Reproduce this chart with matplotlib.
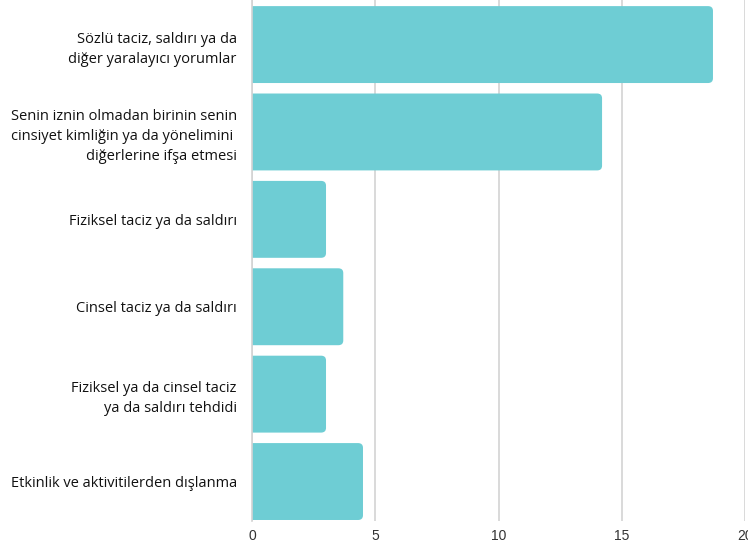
import matplotlib
matplotlib.use("Agg")
import matplotlib.pyplot as plt
from matplotlib.patches import FancyBboxPatch

categories = [
    "Sözlü taciz, saldırı ya da\ndiğer yaralayıcı yorumlar",
    "Senin iznin olmadan birinin senin\ncinsiyet kimliğin ya da yönelimini \ndiğerlerine ifşa etmesi",
    "Fiziksel taciz ya da saldırı",
    "Cinsel taciz ya da saldırı",
    "Fiziksel ya da cinsel taciz\nya da saldırı tehdidi",
    "Etkinlik ve aktivitilerden dışlanma",
]
values = [18.7, 14.2, 3.0, 3.7, 3.0, 4.5]
xticks = [0, 5, 10, 15, 20]

bar_color = "#6ecdd4"
grid_color = "#d3d3d3"

fig = plt.figure(figsize=(7.48, 5.42), dpi=100)
ax = fig.add_axes([0.337, 0.039, 0.659, 0.961])

ypos = list(range(len(categories)))
bars = ax.barh(ypos, values, height=0.88, color=bar_color)

# swap plain bars for ones with rounded corners (left side hidden under the axis)
for b in bars:
    x0, y0, w, h = b.get_x(), b.get_y(), b.get_width(), b.get_height()
    b.set_visible(False)
    p = FancyBboxPatch((x0 - 0.4, y0), w + 0.4, h,
                       boxstyle="round,pad=0,rounding_size=0.2",
                       mutation_aspect=0.27,
                       facecolor=bar_color, edgecolor="none", zorder=2)
    ax.add_patch(p)

ax.set_xlim(0, 20)
ax.set_ylim(5.45, -0.51)
ax.set_xticks(xticks)
ax.set_xticklabels([str(t) for t in xticks], fontsize=10,
                   family=["Liberation Sans", "DejaVu Sans"], color="#333333")
ax.set_yticks(ypos)
ax.set_yticklabels(categories, fontsize=10.5, family=["Open Sans", "DejaVu Sans"],
                   color="#111111", linespacing=1.45)

ax.tick_params(axis="both", length=0)
ax.tick_params(axis="y", pad=11)
ax.tick_params(axis="x", pad=6)

for s in ["top", "right", "bottom"]:
    ax.spines[s].set_visible(False)
ax.spines["left"].set_color(grid_color)
ax.spines["left"].set_linewidth(1.2)

ax.xaxis.grid(True, color=grid_color, linewidth=1.2)
ax.set_axisbelow(True)

fig.savefig("out.png", dpi=100)
